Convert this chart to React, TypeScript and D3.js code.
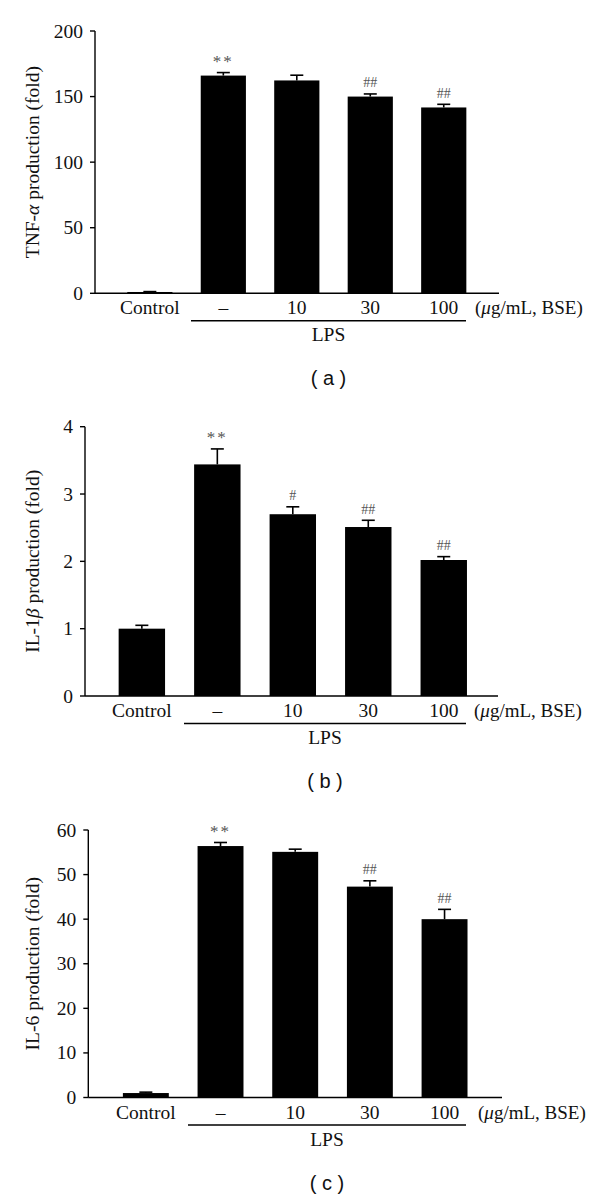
import React from "react";
import * as d3 from "d3";

const categories = ["Control", "–", "10", "30", "100"];

const tnfValues = [1, 166, 162.3, 150, 141.7];
const tnfErrors = [0.3, 2.3, 4, 2, 2.4];
const tnfMarks = ["", "**", "", "##", "##"];
const tnfTicks = [0, 50, 100, 150, 200];

const il1Values = [1, 3.44, 2.7, 2.51, 2.02];
const il1Errors = [0.05, 0.23, 0.11, 0.1, 0.05];
const il1Marks = ["", "**", "#", "##", "##"];
const il1Ticks = [0, 1, 2, 3, 4];

const il6Values = [1, 56.4, 55.1, 47.3, 40];
const il6Errors = [0.2, 0.8, 0.6, 1.3, 2.2];
const il6Marks = ["", "**", "", "##", "##"];
const il6Ticks = [0, 10, 20, 30, 40, 50, 60];

const groupLabel = "LPS";

type PanelProps = {
  values: number[];
  errors: number[];
  marks: string[];
  ticks: number[];
  yMax: number;
  title: React.ReactNode;
  caption: string;
  axisX: number;
  yTop: number;
  yBottom: number;
  band: [number, number];
  axisEnd: number;
  lps: [number, number];
};

const SERIF = "'Liberation Serif', 'Times New Roman', serif";
const SANS = "'Liberation Sans', Arial, sans-serif";

function Panel(p: PanelProps) {
  const x = d3.scaleBand<string>().domain(categories).range(p.band).paddingInner(0.385).paddingOuter(0.19);
  const y = d3.scaleLinear().domain([0, p.yMax]).range([p.yBottom, p.yTop]);
  const bw = x.bandwidth();
  const midY = (p.yTop + p.yBottom) / 2;
  const lpsMid = (p.lps[0] + p.lps[1]) / 2;
  return (
    <g>
      {categories.map((c, i) => (
        <rect key={c} x={x(c)} y={y(p.values[i])} width={bw} height={p.yBottom - y(p.values[i])} fill="#000" />
      ))}
      {categories.map((c, i) => {
        const cx = (x(c) as number) + bw / 2;
        const top = y(p.values[i] + p.errors[i]);
        return (
          <g key={"e" + c} stroke="#000" strokeWidth={1.6}>
            <line x1={cx} x2={cx} y1={y(p.values[i])} y2={top} />
            <line x1={cx - 6.5} x2={cx + 6.5} y1={top} y2={top} />
          </g>
        );
      })}
      {categories.map((c, i) =>
        p.marks[i] ? (
          <text
            key={"m" + c}
            x={(x(c) as number) + bw / 2}
            y={y(p.values[i] + p.errors[i]) - 11}
            textAnchor="middle"
            dominantBaseline="central"
            fontFamily={SERIF}
            fontSize={p.marks[i] === "**" ? 17 : 14}
            letterSpacing={p.marks[i] === "**" ? 2 : 0}
            fill="#555"
          >
            {p.marks[i]}
          </text>
        ) : null
      )}
      <line x1={p.axisX} x2={p.axisEnd} y1={p.yBottom} y2={p.yBottom} stroke="#000" strokeWidth={1.4} />
      <line x1={p.axisX} x2={p.axisX} y1={p.yTop} y2={p.yBottom} stroke="#000" strokeWidth={1.4} />
      {p.ticks.map((t) => (
        <g key={"t" + t}>
          <line x1={p.axisX - 5} x2={p.axisX} y1={y(t)} y2={y(t)} stroke="#000" strokeWidth={1.4} />
          <text x={p.axisX - 12} y={y(t) + 6.5} textAnchor="end" fontFamily={SERIF} fontSize={19.5} fill="#111">
            {t}
          </text>
        </g>
      ))}
      <text transform={`translate(38.5,${midY}) rotate(-90)`} textAnchor="middle" fontFamily={SERIF} fontSize={19.5} fill="#111">
        {p.title}
      </text>
      {categories.map((c) => (
        <text key={"x" + c} x={(x(c) as number) + bw / 2} y={p.yBottom + 21} textAnchor="middle" fontFamily={SERIF} fontSize={19.5} fill="#111">
          {c}
        </text>
      ))}
      <text x={p.axisEnd - 24} y={p.yBottom + 21} fontFamily={SERIF} fontSize={19} fill="#111">
        (<tspan fontStyle="italic">μ</tspan>g/mL, BSE)
      </text>
      <line x1={p.lps[0]} x2={p.lps[1]} y1={p.yBottom + 27.5} y2={p.yBottom + 27.5} stroke="#000" strokeWidth={1.4} />
      <text x={lpsMid} y={p.yBottom + 48} textAnchor="middle" fontFamily={SERIF} fontSize={19.5} fill="#111">
        {groupLabel}
      </text>
      <text x={lpsMid} y={p.yBottom + 92} textAnchor="middle" fontFamily={SANS} fontSize={20} fill="#111">
        {p.caption}
      </text>
    </g>
  );
}

export default function App() {
  return (
    <svg width={600} height={1200} style={{ position: "absolute", left: 0, top: 0, background: "#fff" }}>
      <rect width={600} height={1200} fill="#fff" />
      <Panel
        values={tnfValues}
        errors={tnfErrors}
        marks={tnfMarks}
        ticks={tnfTicks}
        yMax={200}
        title={<>TNF-<tspan fontStyle="italic">α</tspan> production (fold)</>}
        caption="( a )"
        axisX={95}
        yTop={31}
        yBottom={293.3}
        band={[113.3, 480.3]}
        axisEnd={499}
        lps={[191, 466]}
      />
      <Panel
        values={il1Values}
        errors={il1Errors}
        marks={il1Marks}
        ticks={il1Ticks}
        yMax={4}
        title={<>IL-1<tspan fontStyle="italic">β</tspan> production (fold)</>}
        caption="( b )"
        axisX={85}
        yTop={426.7}
        yBottom={696}
        band={[104.3, 481.3]}
        axisEnd={498}
        lps={[184, 466]}
      />
      <Panel
        values={il6Values}
        errors={il6Errors}
        marks={il6Marks}
        ticks={il6Ticks}
        yMax={60}
        title={<>IL-6 production (fold)</>}
        caption="( c )"
        axisX={88.3}
        yTop={830}
        yBottom={1097.5}
        band={[108.7, 481.7]}
        axisEnd={502}
        lps={[188, 466]}
      />
    </svg>
  );
}
